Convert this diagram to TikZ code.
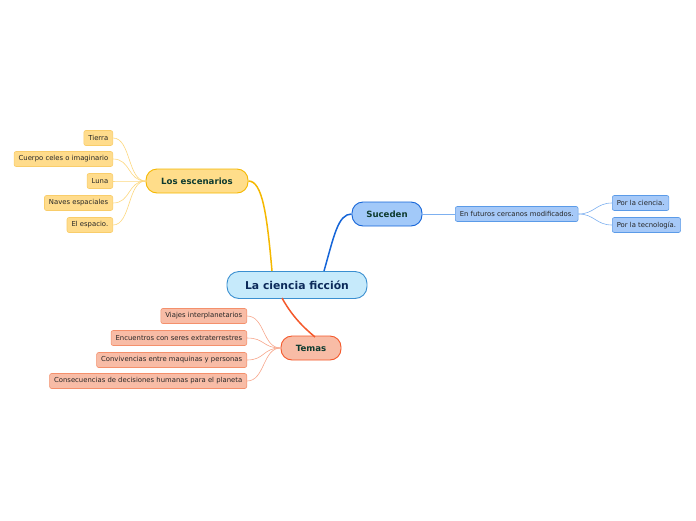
\documentclass[tikz,border=0pt]{standalone}
\usepackage{fontspec}
\setmainfont{DejaVu Sans}
\definecolor{cfill}{HTML}{C6EAFB}
\definecolor{cdraw}{HTML}{3A8FD0}
\definecolor{ctext}{HTML}{0C2A5A}
\definecolor{yfill}{HTML}{FFDD8A}
\definecolor{ydraw}{HTML}{F5B800}
\definecolor{ylfill}{HTML}{FFDC8C}
\definecolor{yldraw}{HTML}{F9CD6A}
\definecolor{ylink}{HTML}{FCD77E}
\definecolor{bfill}{HTML}{A2C9F9}
\definecolor{bdraw}{HTML}{1565D8}
\definecolor{blfill}{HTML}{A6C9F8}
\definecolor{bldraw}{HTML}{5B9BE8}
\definecolor{blink}{HTML}{7DB0F0}
\definecolor{rfill}{HTML}{F8BCA6}
\definecolor{rdraw}{HTML}{F4582A}
\definecolor{rlfill}{HTML}{F8BCA6}
\definecolor{rldraw}{HTML}{F4906C}
\definecolor{rlink}{HTML}{F7A58A}
\definecolor{gtext}{HTML}{0E3B2F}
\tikzset{
  central/.style={draw=cdraw, fill=cfill, line width=0.9pt, rounded corners=12pt,
    minimum width=140pt, minimum height=27pt, font=\fontsize{10.8}{12}\selectfont\bfseries, text=ctext},
  branch/.style={line width=0.9pt, rounded corners=11pt, minimum height=24pt,
    font=\fontsize{8.6}{10}\selectfont\bfseries, text=gtext},
  leaf/.style={line width=0.6pt, rounded corners=2pt, minimum height=15pt, inner xsep=4.5pt,
    font=\fontsize{6.85}{8}\selectfont, text=black!85},
  yleaf/.style={leaf, draw=yldraw, fill=ylfill, anchor=east},
  bleaf/.style={leaf, draw=bldraw, fill=blfill, anchor=west},
  rleaf/.style={leaf, draw=rldraw, fill=rlfill, anchor=east},
  mainlink/.style={line width=1.5pt},
  leaflink/.style={line width=0.6pt},
}
\begin{document}
\begin{tikzpicture}[x=1pt,y=-1pt]
\useasboundingbox (0,0) rectangle (696,520);

\node[central] (c) at (297,285) {La ciencia ficción};
\node[branch, draw=ydraw, fill=yfill, minimum width=102pt] (esc) at (197,181) {Los escenarios};
\node[branch, draw=bdraw, fill=bfill, minimum width=70pt] (suc) at (387,214) {Suceden};
\node[branch, draw=rdraw, fill=rfill, minimum width=60pt] (tem) at (311,348) {Temas};

\node[yleaf] (y1) at (113,138) {Tierra};
\node[yleaf] (y2) at (113,159) {Cuerpo celes o imaginario};
\node[yleaf] (y3) at (113,181) {Luna};
\node[yleaf] (y4) at (113,203) {Naves espaciales};
\node[yleaf] (y5) at (113,225) {El espacio.};

\node[bleaf] (fut) at (455,214) {En futuros cercanos modificados.};
\node[bleaf] (b1) at (612,203) {Por la ciencia.};
\node[bleaf] (b2) at (612,225) {Por la tecnología.};

\node[rleaf] (r1) at (247,316) {Viajes interplanetarios};
\node[rleaf] (r2) at (247,338) {Encuentros con seres extraterrestres};
\node[rleaf] (r3) at (247,360) {Convivencias entre maquinas y personas};
\node[rleaf] (r4) at (247,381) {Consecuencias de decisiones humanas para el planeta};

% main links
\coordinate (cy) at (272,271);
\coordinate (cb) at (324,271);
\coordinate (cr) at (282,298);
\coordinate (tr) at (315,337);
\draw[mainlink, draw=ydraw] (esc.east) .. controls +(14,0) and (267,215) .. (cy);
\draw[mainlink, draw=bdraw] (cb) .. controls (334,236) and (338,214) .. (suc.west);
\draw[mainlink, draw=rdraw] (cr) .. controls (292,316) and (303,327) .. (tr);

% leaf links
\foreach \n in {y1,y2,y3,y4,y5}
  \draw[leaflink, draw=ylink] (esc.west) .. controls +(-18,0) and ([xshift=18pt]\n.east) .. (\n.east);
\draw[leaflink, draw=blink] (suc.east) -- (fut.west);
\foreach \n in {b1,b2}
  \draw[leaflink, draw=blink] (fut.east) .. controls +(16,0) and ([xshift=-16pt]\n.west) .. (\n.west);
\foreach \n in {r1,r2,r3,r4}
  \draw[leaflink, draw=rlink] (tem.west) .. controls +(-18,0) and ([xshift=18pt]\n.east) .. (\n.east);
\end{tikzpicture}
\end{document}
